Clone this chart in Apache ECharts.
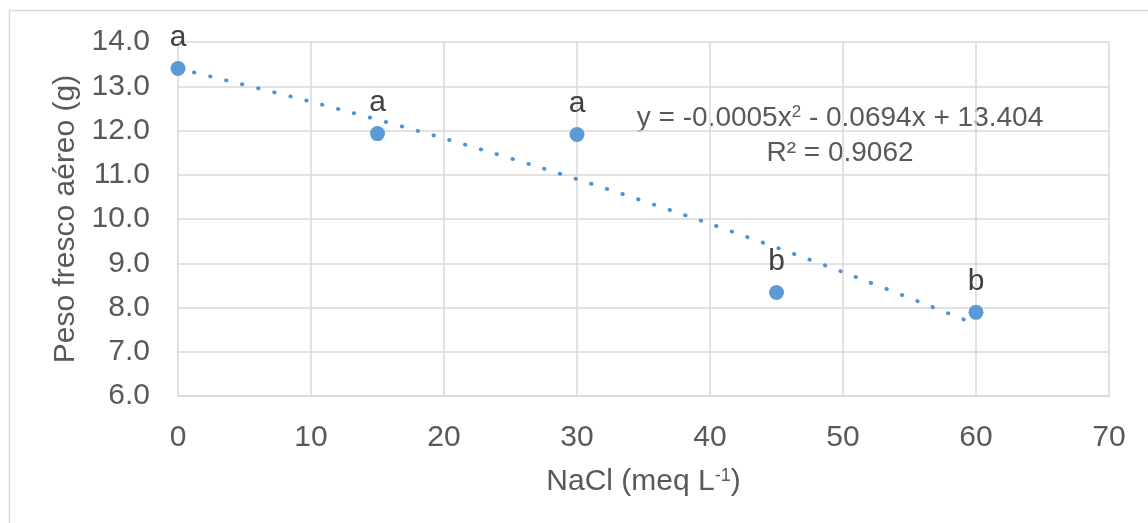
<!DOCTYPE html>
<html>
<head>
<meta charset="utf-8">
<script src="https://cdn.jsdelivr.net/npm/echarts@6/dist/echarts.min.js"></script>
<style>
html,body{margin:0;padding:0;background:#fff;}
#c{width:1148px;height:523px;}
</style>
</head>
<body>
<div id="c"></div>
<script>
// Data
var nacl = [0, 15, 30, 45, 60];
var peso = [13.40, 11.93, 11.91, 8.34, 7.89];
var letters = ['a', 'a', 'a', 'b', 'b'];
// Trendline values
var trendX = [0, 10, 20, 30, 40, 50, 60];
var trendY = [13.40, 12.65, 11.82, 10.90, 9.89, 8.80, 7.62];
var eqLine1 = 'y = -0.0005x{sup|2} - 0.0694x + 13.404';
var eqLine2 = 'R² = 0.9062';
var yTitle = 'Peso fresco aéreo (g)';
var xTitle = 'NaCl (meq L{sup|-1})';

var FONT = 'Liberation Sans, Arial, sans-serif';
var FS = 30;
var chart = echarts.init(document.getElementById('c'), null, {renderer: 'canvas'});

var pts = nacl.map(function (x, i) { return [x, peso[i]]; });
var trend = trendX.map(function (x, i) { return [x, trendY[i]]; });

chart.setOption({
  animation: false,
  backgroundColor: '#fff',
  grid: {left: 178, right: 39, top: 42, bottom: 127, containLabel: false},
  xAxis: {
    type: 'value', min: 0, max: 70, interval: 10,
    axisLine: {show: true, lineStyle: {color: '#d9d9d9', width: 1.5}},
    axisTick: {show: false},
    splitLine: {show: true, lineStyle: {color: '#d9d9d9', width: 1.5}},
    axisLabel: {color: '#595959', fontSize: FS, fontFamily: FONT, margin: 27},
    name: xTitle, nameLocation: 'middle', nameGap: 71,
    nameTextStyle: {color: '#595959', fontSize: FS, fontFamily: FONT,
      rich: {sup: {fontSize: 18, verticalAlign: 'top', color: '#595959', fontFamily: FONT, padding: [0,0,12,0]}}}
  },
  yAxis: {
    type: 'value', min: 6, max: 14, interval: 1,
    axisLine: {show: false},
    axisTick: {show: false},
    splitLine: {show: true, lineStyle: {color: '#d9d9d9', width: 1.5}},
    axisLabel: {color: '#595959', fontSize: FS, fontFamily: FONT, margin: 28,
      formatter: function (v) { return v.toFixed(1); }},
    name: yTitle, nameLocation: 'middle', nameGap: 97, nameRotate: 90,
    nameTextStyle: {color: '#595959', fontSize: FS, fontFamily: FONT}
  },
  series: [
    {
      type: 'line', data: trend, smooth: 0.3, showSymbol: false, silent: true,
      lineStyle: {color: '#4f93d2', width: 3.8, type: [0.5, 16], cap: 'round'},
      z: 2
    },
    {
      type: 'scatter', data: pts, symbol: 'circle', symbolSize: 15,
      itemStyle: {color: '#5b9bd5', opacity: 1},
      label: {show: true, position: 'top', distance: 8, color: '#404040', fontSize: FS, fontFamily: FONT,
        formatter: function (p) { return letters[p.dataIndex]; }},
      z: 3
    }
  ],
  graphic: [
    {type: 'rect', shape: {x: 9.5, y: 10.5, width: 1145, height: 600}, silent: true,
      style: {fill: 'none', stroke: '#d9d9d9', lineWidth: 1.5}, z: -1},
    {type: 'text', x: 840, y: 118,
      style: {text: eqLine1, fill: '#595959', font: '28px ' + FONT, textAlign: 'center', textVerticalAlign: 'middle',
        rich: {sup: {fontSize: 17, fontFamily: FONT, fill: '#595959', verticalAlign: 'top', padding: [0,0,12,0]}}}},
    {type: 'text', x: 840, y: 153,
      style: {text: eqLine2, fill: '#595959', font: '28px ' + FONT, textAlign: 'center', textVerticalAlign: 'middle'}}
  ]
});
</script>
</body>
</html>
